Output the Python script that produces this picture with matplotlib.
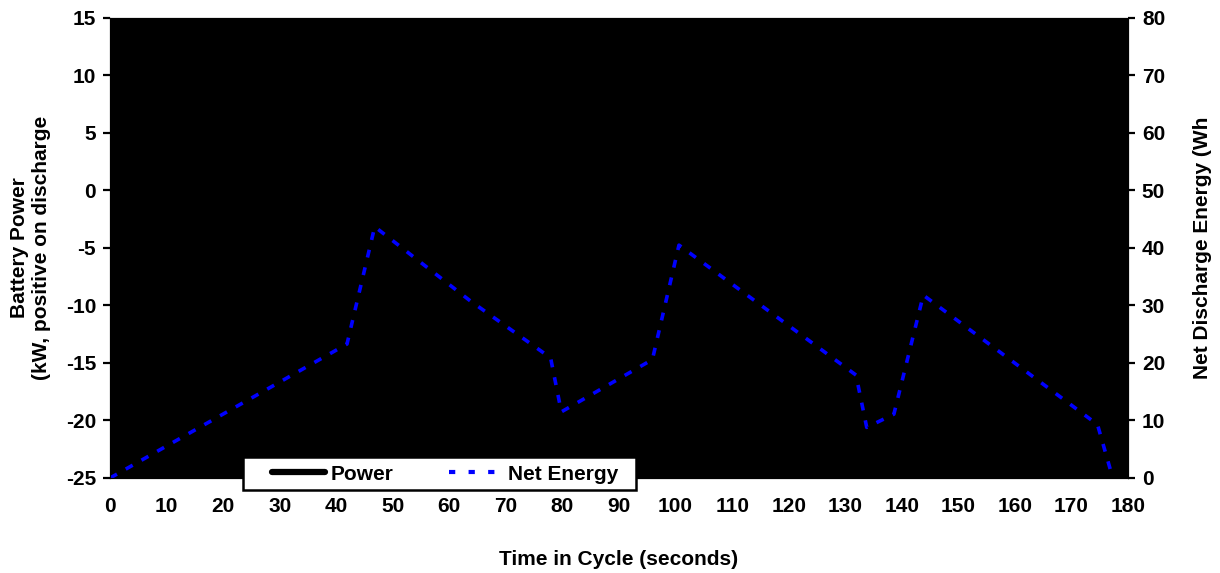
import numpy as np
import matplotlib as mpl
mpl.use("Agg")
import matplotlib.pyplot as plt
from matplotlib.lines import Line2D
from matplotlib.patches import Rectangle

plt.rcParams['font.family'] = ['Liberation Sans', 'DejaVu Sans']
plt.rcParams['font.weight'] = 'bold'
plt.rcParams['axes.unicode_minus'] = False

# net discharge energy
time_s = [0, 41.9, 46.8, 63.7, 77.9, 79.8, 95.9, 100.6, 131.9, 133.8, 138.6, 143.8, 174.6, 177.3]
energy_wh = [0, 23.3, 43.7, 30.8, 20.9, 11.5, 20.6, 40.5, 17.9, 8.8, 11.1, 31.8, 9.3, 0]

power_ticks = [-25, -20, -15, -10, -5, 0, 5, 10, 15]
energy_ticks = [0, 10, 20, 30, 40, 50, 60, 70, 80]
time_ticks = list(range(0, 181, 10))

fs = 15

fig = plt.figure(figsize=(12.2, 5.73), dpi=100)
ax = fig.add_axes([0.0902, 0.1658, 0.8344, 0.8028])
ax.set_facecolor('black')
ax2 = ax.twinx()

# power trace is black on black, only shows in legend
ax.plot([], [], color='black', lw=4, solid_capstyle='round', label='Power')
ax2.plot(time_s, energy_wh, color='#0000ff', lw=2.6, ls=(0, (2.2, 2.8)), label='Net Energy')

ax.set_xlim(0, 180)
ax.set_ylim(-25, 15)
ax2.set_ylim(0, 80)
ax.set_xticks(time_ticks)
ax.set_yticks(power_ticks)
ax2.set_yticks(energy_ticks)

for a in (ax, ax2):
    a.tick_params(labelsize=fs, length=5, width=1.6, direction='out', pad=5)
    for sp in a.spines.values():
        sp.set_color('black')
ax.tick_params(axis='x', length=0, pad=14)

ax.set_xlabel('Time in Cycle (seconds)', fontsize=fs, fontweight='bold', labelpad=24)
ax.set_ylabel('Battery Power\n(kW, positive on discharge', fontsize=fs, fontweight='bold', labelpad=11)
ax2.set_ylabel('Net Discharge Energy (Wh', fontsize=fs, fontweight='bold', labelpad=20)

# legend box drawn on its own, wider than the entries
fig.patches.append(Rectangle((243 / 1220, 1 - 490 / 573), 393 / 1220, 33 / 573,
                             transform=fig.transFigure, facecolor='white',
                             edgecolor='black', lw=1.8, zorder=5))
handles = [Line2D([], [], color='black', lw=4.5, solid_capstyle='round'),
           Line2D([], [], color='#0000ff', lw=3.0, ls=(0, (1.5, 3.2)))]
leg = fig.legend(handles, ['Power', 'Net Energy'], loc='center left', ncol=2,
                 bbox_to_anchor=(272 / 1220, 1 - 474 / 573), fontsize=fs, frameon=False,
                 handlelength=2.55, columnspacing=2.7, borderpad=0, handletextpad=0.25,
                 borderaxespad=0)
leg.set_zorder(6)

fig.savefig('out.png', dpi=100)
